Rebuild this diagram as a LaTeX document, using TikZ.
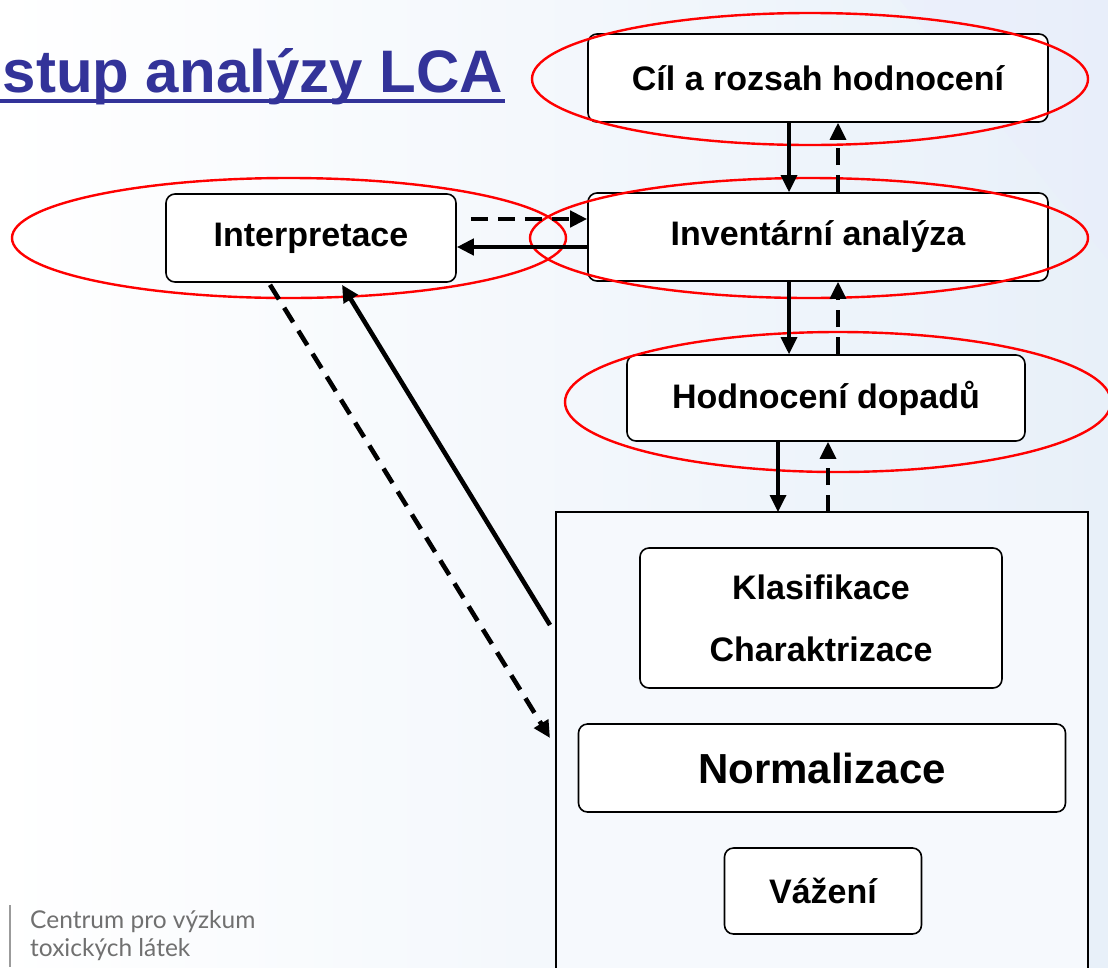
\documentclass[tikz,border=0pt]{standalone}
\usepackage{fontspec}
\setmainfont{Liberation Sans}
\newfontfamily\logofont{Lato}
\usepackage{tikz}
\usetikzlibrary{calc}
\usetikzlibrary{arrows.meta}
\usetikzlibrary{positioning}
\definecolor{titleblue}{RGB}{51,51,153}
\definecolor{logogray}{RGB}{112,112,112}
\definecolor{paleblue}{RGB}{232,240,249}

\begin{document}
\begin{tikzpicture}[x=1pt,y=-1pt,
  box/.style={draw,line width=1.6pt,rounded corners=9pt,fill=white,align=center,font=\fontsize{34}{40}\selectfont\bfseries},
  ring/.style={draw=red,line width=2.4pt},
  flow/.style={line width=4.6pt,-{Triangle[length=17pt,width=16pt]}},
  back/.style={flow,dash pattern=on 17pt off 10pt}]

\useasboundingbox (0,0) rectangle (1108,967);
\clip (0,0) rectangle (1108,967);
\fill[left color=white,right color=paleblue] (0,0) rectangle (1108,967);
\fill[paleblue!80!blue!30,opacity=0.35] (900,0) -- (1108,0) -- (1108,260) -- cycle;

% title and logo
\node[anchor=base east,inner sep=0,text=titleblue,font=\fontsize{60}{70}\selectfont\bfseries] (title) at (503,92) {stup analýzy LCA};
\draw[titleblue,line width=4pt] (0,101) -- ($(title.base east)+(2,9)$);
\draw[logogray!70,line width=2pt] (10,905) -- (10,967);
\node[anchor=north west,inner sep=0,align=left,text=logogray,font=\logofont\fontsize{24.5}{28}\selectfont] (logo) at (30,910) {Centrum pro výzkum\\toxických látek};

% main chain
\node[box,minimum width=460pt,minimum height=88pt] (cil) at (818,78) {Cíl a rozsah hodnocení};
\node[box,minimum width=460pt,minimum height=88pt] (inv) at (818,237) {Inventární analýza};
\node[box,minimum width=290pt,minimum height=88pt] (interp) at (311,238) {Interpretace};
\node[box,minimum width=398pt,minimum height=86pt] (dopad) at (826,398) {Hodnocení dopadů};

% impact stage
\draw[line width=1.6pt,fill=white!60!paleblue] (556,512) rectangle (1088,990);
\coordinate (stage) at (556,512);
\node[box,minimum width=362pt,minimum height=140pt] (klas) at (821,618) {Klasifikace\\[22pt]Charaktrizace};
\node[box,minimum width=487pt,minimum height=88pt,font=\fontsize{42}{48}\selectfont\bfseries] (norm) at (822,768) {Normalizace};
\node[box,minimum width=197pt,minimum height=86pt] (vaz) at (823,891) {Vážení};

% red rings
\draw[ring] (810,79) ellipse [x radius=278pt,y radius=66pt];
\draw[ring] (809,238) ellipse [x radius=279pt,y radius=60pt];
\draw[ring] (289,238) ellipse [x radius=277pt,y radius=60pt];
\draw[ring] (838,402) ellipse [x radius=273pt,y radius=70pt];

% arrows
\draw[flow,line width=3.4pt] ($(cil.south)+(-29,0)$) -- ($(inv.north)+(-29,0)$);
\draw[back,line width=3.4pt] ($(inv.north)+(20,0)$) -- ($(cil.south)+(20,0)$);
\draw[flow,line width=3.4pt] ($(inv.south)+(-29,0)$) -- ($(dopad.north)+(-37,0)$);
\draw[back,line width=3.4pt] ($(dopad.north)+(12,0)$) -- ($(inv.south)+(20,0)$);
\draw[flow,line width=3.4pt] ($(dopad.south)+(-48,0)$) -- ($(stage)+(222,0)$);
\draw[back,line width=3.4pt] ($(stage)+(272,0)$) -- ($(dopad.south)+(2,0)$);
\draw[back] ($(interp.east)+(14,-19)$) -- ($(inv.west)+(0,-18)$);
\draw[flow] ($(inv.west)+(0,10)$) -- ($(interp.east)+(0,9)$);
\draw[back] ($(interp.south)+(-41,2)$) -- ($(stage)+(-6,226)$);
\draw[flow] ($(stage)+(-6,113)$) -- ($(interp.south)+(31,2)$);
\end{tikzpicture}
\end{document}
